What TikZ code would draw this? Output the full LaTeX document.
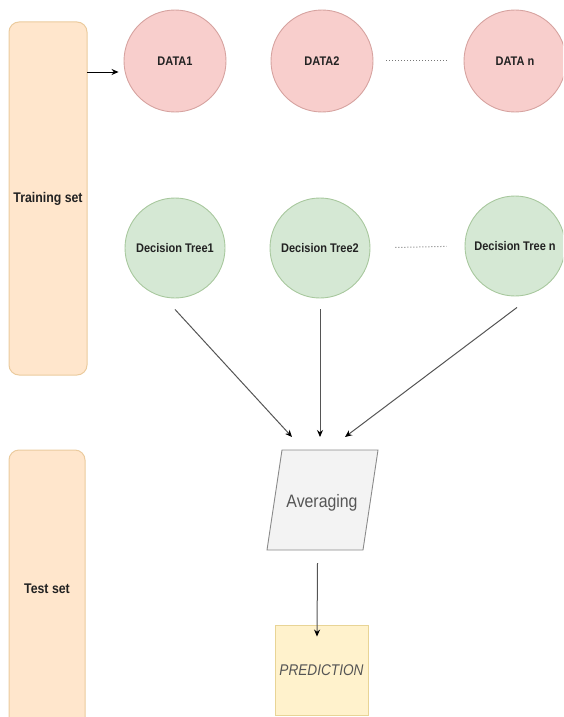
\documentclass[tikz,border=0pt]{standalone}
\usepackage{fontspec}
\setmainfont{Liberation Sans}
\newfontfamily\narrow[FakeStretch=0.88]{Liberation Sans}
\usetikzlibrary{arrows.meta}

\definecolor{setfill}{HTML}{FFE6CC}
\definecolor{setline}{HTML}{EBCB9E}
\definecolor{datafill}{HTML}{F8CECC}
\definecolor{dataline}{HTML}{D6A3A0}
\definecolor{treefill}{HTML}{D5E8D4}
\definecolor{treeline}{HTML}{A8C89E}
\definecolor{avgfill}{HTML}{F3F3F3}
\definecolor{avgline}{HTML}{8A8A8A}
\definecolor{predfill}{HTML}{FFF2CC}
\definecolor{predline}{HTML}{E8D496}
\definecolor{txt}{HTML}{222222}
\definecolor{soft}{HTML}{555555}

\tikzset{
  setbox/.style={draw=setline, fill=setfill, line width=1pt, rounded corners=10pt,
    minimum width=78pt, text=txt, font=\narrow\bfseries\fontsize{14}{16}\selectfont},
  datanode/.style={circle, draw=dataline, fill=datafill, line width=0.9pt,
    minimum size=102pt, inner sep=0pt, text=txt, font=\narrow\bfseries\fontsize{12.5}{14}\selectfont},
  treenode/.style={circle, draw=treeline, fill=treefill, line width=0.9pt,
    minimum size=100pt, inner sep=0pt, text=txt, font=\narrow\bfseries\fontsize{12.5}{14}\selectfont},
  arr/.style={draw=soft, line width=1pt, -{Stealth[length=7pt,width=6pt,color=black]}},
  dots/.style={draw=soft!80, line width=1pt, dotted}
}

\begin{document}
\begin{tikzpicture}[x=1pt, y=-1pt]
\useasboundingbox (0,0) rectangle (563,717);
\clip (0,0) rectangle (563,717);

% side panels
\node[setbox, minimum height=353pt] (train) at (48,198.5) {Training set};
\node[setbox, minimum height=280pt, minimum width=76pt] (test) at (47,590) {\raisebox{3pt}{Test set}};

% data samples
\node[datanode] (d1) at (175,61) {DATA1};
\node[datanode] (d2) at (322,61) {DATA2};
\node[datanode] (dn) at (515,61) {DATA n};

% trees
\node[treenode] (t1) at (175,248) {Decision Tree1};
\node[treenode] (t2) at (320,248) {Decision Tree2};
\node[treenode] (tn) at (515,246) {Decision Tree n};

% averaging step (parallelogram)
\node[minimum width=96pt, minimum height=100pt, inner sep=0pt] (avg) at (322.5,500) {};
\draw[draw=avgline, fill=avgfill, line width=0.9pt]
  (282,450) -- (378,450) -- (363,550) -- (267,550) -- cycle;
\node[text=soft, font=\narrow\fontsize{18}{20}\selectfont] (avgtxt) at (322,503) {Averaging};

% prediction
\node[draw=predline, fill=predfill, line width=0.9pt, minimum width=93pt, minimum height=90pt,
  text=soft, font=\narrow\itshape\fontsize{15.5}{17}\selectfont] (pred) at (321.5,670) {PREDICTION};

% connectors
\coordinate (a0) at (87,72);
\draw[arr, draw=black] (a0) -- ([xshift=-5pt]d1.west |- a0);

\draw[dots, shorten <=13pt, shorten >=17pt] (d2.east) -- (dn.west);
\draw[dots, shorten <=25pt, shorten >=18pt] (t2.east) -- (tn.west);

\coordinate (e1) at (292,437);
\coordinate (e2) at (320,437);
\coordinate (e3) at (345,437);
\draw[arr] ([yshift=-11pt]t1.south) -- (e1);
\draw[arr] ([yshift=-11pt]t2.south) -- (e2);
\draw[arr] ([yshift=-11pt,xshift=2pt]tn.south) -- (e3);

\draw[arr] ([xshift=-5pt,yshift=-13pt]avg.south) -- ([xshift=-4.5pt,yshift=-12pt]pred.north);
\end{tikzpicture}
\end{document}
